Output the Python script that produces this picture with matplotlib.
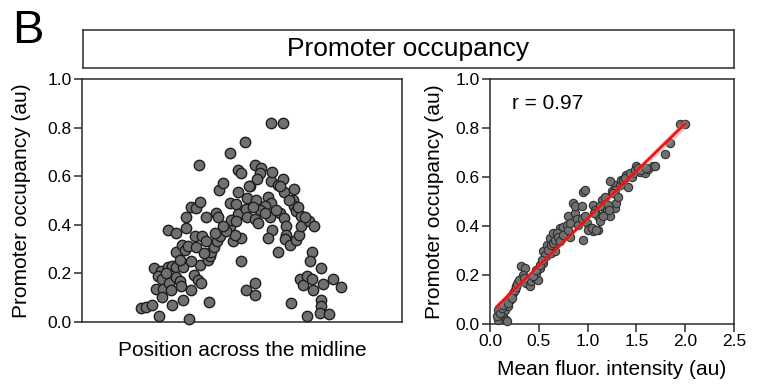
import numpy as np
import matplotlib
matplotlib.use("Agg")
import matplotlib.pyplot as plt

plt.rcParams["font.family"] = ["Liberation Sans", "DejaVu Sans"]

# left panel: position across midline (arbitrary units) vs promoter occupancy
pos_x = [42.5, 44.0, 45.7, 47.8, 46.2, 47.0, 48.3, 47.5, 48.7, 49.0, 48.7, 51.7, 50.5, 51.8, 53.0,
         55.0, 50.8, 52.8, 54.0, 51.5, 54.3, 55.0, 56.8, 57.3, 50.5, 52.8, 52.8, 54.7, 55.5, 56.5,
         59.0, 56.0, 58.5, 60.8, 56.0, 57.3, 59.0, 60.0, 62.0, 58.3, 59.5, 60.5, 60.0, 62.8, 62.5,
         63.0, 63.5, 64.2, 65.2, 66.2, 70.0, 64.8, 65.5, 69.0, 59.7, 65.8, 67.0, 69.0, 71.5, 69.0,
         71.5, 72.5, 73.5, 74.3, 75.0, 76.7, 78.5, 78.0, 77.3, 77.0, 80.5, 81.5, 79.7, 81.3, 81.7,
         81.5, 85.0, 83.5, 85.3, 85.0, 84.0, 88.3, 88.0, 88.3, 88.8, 90.3, 71.0, 71.5, 74.0, 74.3,
         76.7, 78.0, 77.5, 81.0, 84.0, 85.3, 86.0, 86.0, 81.7, 80.5, 85.5, 87.0, 89.0, 89.7, 90.5,
         92.7, 94.3, 72.5, 70.5, 72.5, 83.5, 93.5, 93.0, 96.3, 90.0, 91.0, 92.0, 93.5, 94.0, 97.0,
         100.0, 102.3, 74.0, 76.5, 76.5, 87.5, 92.0, 96.3, 96.3, 96.0, 98.8, 74.8, 69.5, 70.8, 68.0,
         67.0, 61.8, 61.2, 76.0, 79.5, 83.0, 86.8, 89.5, 91.5, 64.5, 57.5, 54.0, 50.0]
pos_occ = [0.058, 0.062, 0.068, 0.026, 0.222, 0.137, 0.208, 0.188, 0.178, 0.137, 0.103, 0.068,
           0.226, 0.232, 0.226, 0.226, 0.160, 0.185, 0.170, 0.130, 0.149, 0.092, 0.012, 0.133,
           0.377, 0.368, 0.286, 0.318, 0.297, 0.311, 0.307, 0.386, 0.355, 0.355, 0.432, 0.475,
           0.468, 0.493, 0.434, 0.195, 0.174, 0.160, 0.236, 0.081, 0.256, 0.273, 0.286, 0.307,
           0.332, 0.355, 0.332, 0.448, 0.434, 0.393, 0.647, 0.544, 0.571, 0.489, 0.533, 0.695,
           0.626, 0.612, 0.740, 0.510, 0.558, 0.647, 0.633, 0.612, 0.588, 0.500, 0.514, 0.489,
           0.478, 0.581, 0.619, 0.818, 0.818, 0.564, 0.533, 0.589, 0.558, 0.549, 0.503, 0.478,
           0.455, 0.437, 0.486, 0.444, 0.464, 0.434, 0.423, 0.459, 0.407, 0.432, 0.448, 0.427,
           0.393, 0.359, 0.377, 0.345, 0.341, 0.318, 0.338, 0.359, 0.393, 0.414, 0.393, 0.345,
           0.359, 0.252, 0.286, 0.286, 0.252, 0.222, 0.177, 0.153, 0.188, 0.177, 0.133, 0.158,
           0.178, 0.144, 0.133, 0.160, 0.112, 0.078, 0.026, 0.092, 0.067, 0.037, 0.034, 0.558,
           0.421, 0.414, 0.373, 0.393, 0.332, 0.284, 0.475, 0.448, 0.462, 0.503, 0.475, 0.434,
           0.366, 0.249, 0.256, 0.201]

# right panel: mean fluorescence intensity vs promoter occupancy
fluor = [0.082, 0.099, 0.116, 0.133, 0.167, 0.171, 0.150, 0.068, 0.184, 0.201, 0.218, 0.235,
         0.252, 0.269, 0.290, 0.321, 0.355, 0.338, 0.304, 0.372, 0.406, 0.423, 0.457, 0.491,
         0.474, 0.508, 0.542, 0.576, 0.628, 0.662, 0.546, 0.563, 0.580, 0.631, 0.614, 0.699,
         0.648, 0.716, 0.767, 0.819, 0.750, 0.785, 0.802, 0.870, 0.887, 0.853, 0.870, 0.938,
         0.955, 0.972, 0.955, 0.989, 1.023, 1.057, 1.109, 0.955, 1.057, 1.074, 1.143, 1.177,
         1.245, 1.279, 1.177, 1.228, 1.194, 1.279, 1.296, 1.109, 1.126, 1.228, 1.330, 1.279,
         1.347, 1.416, 1.398, 1.450, 1.467, 1.501, 1.535, 1.586, 1.620, 1.671, 1.791, 1.842,
         1.944, 1.995, 0.085, 0.102, 0.119, 0.136, 0.188, 0.222, 0.266, 0.280, 0.300, 0.348,
         0.443, 0.471, 0.512, 0.529, 0.597, 0.624, 0.641, 0.665, 0.682, 0.699, 0.716, 0.750,
         0.802, 0.819, 0.904, 0.938, 0.972, 1.006, 1.040, 1.068, 1.091, 1.126, 1.160, 1.211,
         1.221, 1.262, 1.313, 1.364, 1.381, 1.432, 1.484, 1.518, 1.552, 1.603, 1.688]
fluor_occ = [0.018, 0.038, 0.052, 0.031, 0.018, 0.011, 0.058, 0.031, 0.072, 0.099, 0.113, 0.126,
             0.140, 0.154, 0.170, 0.235, 0.228, 0.201, 0.181, 0.167, 0.154, 0.174, 0.188, 0.181,
             0.208, 0.228, 0.249, 0.276, 0.289, 0.296, 0.296, 0.283, 0.323, 0.310, 0.351, 0.344,
             0.371, 0.391, 0.364, 0.357, 0.398, 0.405, 0.439, 0.453, 0.428, 0.493, 0.480, 0.480,
             0.537, 0.548, 0.432, 0.412, 0.391, 0.378, 0.385, 0.344, 0.487, 0.466, 0.507, 0.520,
             0.541, 0.568, 0.453, 0.439, 0.466, 0.473, 0.493, 0.439, 0.419, 0.582, 0.568, 0.548,
             0.588, 0.561, 0.609, 0.602, 0.618, 0.643, 0.622, 0.616, 0.632, 0.643, 0.693, 0.738,
             0.817, 0.817, 0.056, 0.045, 0.065, 0.079, 0.086, 0.106, 0.151, 0.164, 0.178, 0.188,
             0.194, 0.222, 0.242, 0.262, 0.303, 0.323, 0.330, 0.344, 0.371, 0.357, 0.337, 0.364,
             0.385, 0.412, 0.405, 0.428, 0.439, 0.385, 0.391, 0.453, 0.385, 0.480, 0.439, 0.487,
             0.466, 0.534, 0.520, 0.588, 0.595, 0.616, 0.629, 0.636, 0.629, 0.636, 0.645]

occ_ticks = [0.0, 0.2, 0.4, 0.6, 0.8, 1.0]
fluor_ticks = [0.0, 0.5, 1.0, 1.5, 2.0, 2.5]
r_label = "r = 0.97"

spine_col = "#2b2b2b"
face_col = "#707070"
edge_col = "#1e1e1e"

fig = plt.figure(figsize=(7.61, 3.90), dpi=100)

# panel letter and header box
fig.text(0.016, 0.89, "B", fontsize=34, ha="left", va="baseline")
hdr = fig.add_axes([0.1091, 0.8269, 0.8555, 0.0974])
hdr.set_xticks([])
hdr.set_yticks([])
for s in hdr.spines.values():
    s.set_color(spine_col)
    s.set_linewidth(1.1)
hdr.text(0.5, 0.5, "Promoter occupancy", fontsize=19, ha="center", va="center",
         transform=hdr.transAxes)


def style_axes(ax):
    for s in ax.spines.values():
        s.set_color(spine_col)
        s.set_linewidth(1.1)
    ax.tick_params(axis="both", direction="out", length=6, width=1.1, color=spine_col,
                   labelsize=12.5, pad=1.5)
    ax.set_ylim(0, 1.0)
    ax.set_yticks(occ_ticks)
    ax.set_yticklabels([f"{t:.1f}" for t in occ_ticks])


# left panel
ax1 = fig.add_axes([0.1078, 0.1744, 0.4205, 0.6231])
ax1.scatter(pos_x, pos_occ, s=56, facecolor=face_col, edgecolor=edge_col, linewidth=1.0,
            zorder=3, clip_on=False)
ax1.set_xlim(24.8, 120.6)
ax1.set_xticks([])
style_axes(ax1)
ax1.set_ylabel("Promoter occupancy (au)", fontsize=15)
ax1.yaxis.set_label_coords(-0.158, 0.5)
ax1.set_xlabel("Position across the midline", fontsize=15)
ax1.xaxis.set_label_coords(0.5, -0.078)

# right panel
ax2 = fig.add_axes([0.6439, 0.1692, 0.3206, 0.6282])
ax2.scatter(fluor, fluor_occ, s=36, facecolor=face_col, edgecolor="#303030", linewidth=0.8,
            zorder=3, clip_on=False)

# linear fit with confidence band
fx = np.array(fluor)
fy = np.array(fluor_occ)
slope, icpt = np.polyfit(fx, fy, 1)
xx = np.linspace(fx.min(), fx.max(), 100)
yy = slope * xx + icpt
resid = fy - (slope * fx + icpt)
se = np.sqrt(np.sum(resid ** 2) / (len(fx) - 2))
band = 1.97 * se * np.sqrt(1 / len(fx) + (xx - fx.mean()) ** 2 / np.sum((fx - fx.mean()) ** 2))
ax2.fill_between(xx, yy - band, yy + band, color="#f08080", alpha=0.45, linewidth=0, zorder=4)
ax2.plot(xx, yy, color="#ec1515", linewidth=2.0, zorder=5)

ax2.set_xlim(0, 2.5)
ax2.set_xticks(fluor_ticks)
ax2.set_xticklabels([f"{t:.1f}" for t in fluor_ticks])
style_axes(ax2)
ax2.set_ylabel("Promoter occupancy (au)", fontsize=15)
ax2.yaxis.set_label_coords(-0.19, 0.5)
ax2.set_xlabel("Mean fluor. intensity (au)", fontsize=15)
ax2.xaxis.set_label_coords(0.5, -0.145)
ax2.text(0.09, 0.902, r_label, fontsize=15, ha="left", va="center", transform=ax2.transAxes)

fig.savefig("out.png", dpi=100)
